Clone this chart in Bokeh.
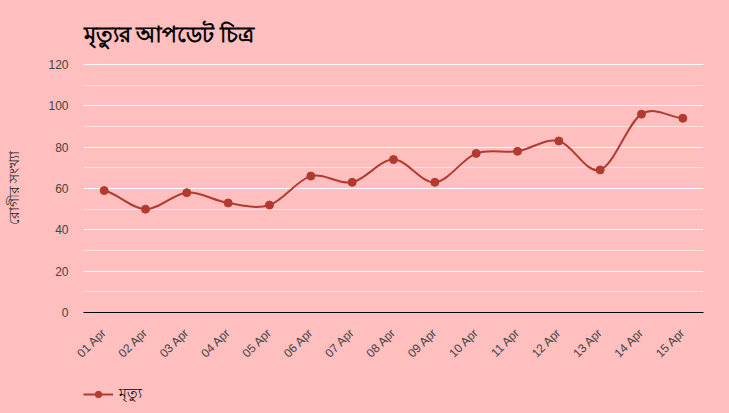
from bokeh.plotting import figure
from bokeh.layouts import column
from bokeh.models import Range1d, FixedTicker, Legend, LegendItem, ColumnDataSource
from bokeh.embed import file_html
from bokeh.resources import INLINE
import math

dates = ["01 Apr", "02 Apr", "03 Apr", "04 Apr", "05 Apr", "06 Apr", "07 Apr", "08 Apr",
         "09 Apr", "10 Apr", "11 Apr", "12 Apr", "13 Apr", "14 Apr", "15 Apr"]
deaths = [59, 50, 58, 53, 52, 66, 63, 74, 63, 77, 78, 83, 69, 96, 94]
y_ticks = [0, 20, 40, 60, 80, 100, 120]
y_minor = [10, 30, 50, 70, 90, 110]

title_text = "মৃত্যুর আপডেট চিত্র"
y_label = "রোগীর সংখ্যা"
series_name = "মৃত্যু"

BG = "#FFBFBF"
LINE = "#B23A30"

n = len(dates)
xs = [i + 0.5 for i in range(n)]

p = figure(width=729, height=375, output_backend="svg", toolbar_location=None,
           x_range=Range1d(0, n), y_range=Range1d(0, 120.5),
           min_border_left=83, min_border_right=26, min_border_top=62, min_border_bottom=63)
p.background_fill_color = BG
p.border_fill_color = BG
p.outline_line_color = None

p.title.text = title_text
p.title.text_font = "Noto Sans"
p.title.text_font_style = "bold"
p.title.text_font_size = "22px"
p.title.text_color = "#000000"
p.title.align = "left"
p.title.standoff = 31

# smooth line segments (Catmull-Rom as cubic Bezier)
def tangent(i):
    if i == 0:
        return (deaths[1] - deaths[0]) / 2
    if i == n - 1:
        return (deaths[-1] - deaths[-2]) / 2
    return (deaths[i + 1] - deaths[i - 1]) / 2

seg = dict(x0=[], y0=[], x1=[], y1=[], cx0=[], cy0=[], cx1=[], cy1=[])
for i in range(n - 1):
    seg["x0"].append(xs[i]); seg["y0"].append(deaths[i])
    seg["x1"].append(xs[i + 1]); seg["y1"].append(deaths[i + 1])
    seg["cx0"].append(xs[i] + 1 / 3); seg["cy0"].append(deaths[i] + tangent(i) / 3)
    seg["cx1"].append(xs[i + 1] - 1 / 3); seg["cy1"].append(deaths[i + 1] - tangent(i + 1) / 3)

p.bezier(x0="x0", y0="y0", x1="x1", y1="y1", cx0="cx0", cy0="cy0", cx1="cx1", cy1="cy1",
         source=ColumnDataSource(seg), line_color=LINE, line_width=2)
p.scatter(xs, deaths, size=8, color=LINE)

# axes
p.xaxis.ticker = FixedTicker(ticks=xs)
p.xaxis.major_label_overrides = {x: d for x, d in zip(xs, dates)}
p.xaxis.major_label_orientation = math.pi / 4
p.xaxis.major_tick_line_color = None
p.xaxis.minor_tick_line_color = None
p.xaxis.axis_line_color = "#000000"
p.xaxis.major_label_text_font = "Liberation Sans"
p.xaxis.major_label_text_font_size = "12px"
p.xaxis.major_label_text_color = "#444444"
p.xaxis.major_label_standoff = 12

p.yaxis.ticker = FixedTicker(ticks=y_ticks, minor_ticks=y_minor)
p.yaxis.major_tick_line_color = None
p.yaxis.minor_tick_line_color = None
p.yaxis.axis_line_color = None
p.yaxis.major_label_text_font = "Liberation Sans"
p.yaxis.major_label_text_font_size = "12px"
p.yaxis.major_label_text_color = "#444444"
p.yaxis.major_label_standoff = 9
p.yaxis.axis_label = y_label
p.yaxis.axis_label_text_font = "Noto Sans"
p.yaxis.axis_label_text_font_style = "normal"
p.yaxis.axis_label_text_font_size = "14px"
p.yaxis.axis_label_text_color = "#222222"
p.yaxis.axis_label_standoff = 22

p.xgrid.grid_line_color = None
p.ygrid.grid_line_color = "#FFFFFF"
p.ygrid.grid_line_width = 1
p.ygrid.minor_grid_line_color = "#FFFFFF"
p.ygrid.minor_grid_line_alpha = 0.5

# legend strip below the chart
lf = figure(width=729, height=38, output_backend="svg", toolbar_location=None,
            x_range=Range1d(0, n), y_range=Range1d(0, 120),
            x_axis_type=None, y_axis_type=None,
            min_border_left=0, min_border_right=0, min_border_top=0, min_border_bottom=0)
lf.background_fill_color = BG
lf.border_fill_color = BG
lf.outline_line_color = None
lf.xgrid.grid_line_color = None
lf.ygrid.grid_line_color = None
lg_line = lf.line(xs, deaths, line_color=LINE, line_width=2, visible=False)
lg_pts = lf.scatter(xs, deaths, size=8, color=LINE, visible=False)
legend = Legend(items=[LegendItem(label=series_name, renderers=[lg_line, lg_pts])],
                location=(0, 7), background_fill_alpha=0, border_line_color=None,
                inactive_fill_alpha=0,
                padding=0, margin=0, glyph_width=30, glyph_height=16, label_standoff=6,
                label_text_font_size="14px", label_text_font="Noto Sans", label_text_color="#000000")
lf.add_layout(legend, "center")

layout = column(p, lf, spacing=0, styles={"background-color": BG})
open("out.html", "w").write(file_html(layout, INLINE))
